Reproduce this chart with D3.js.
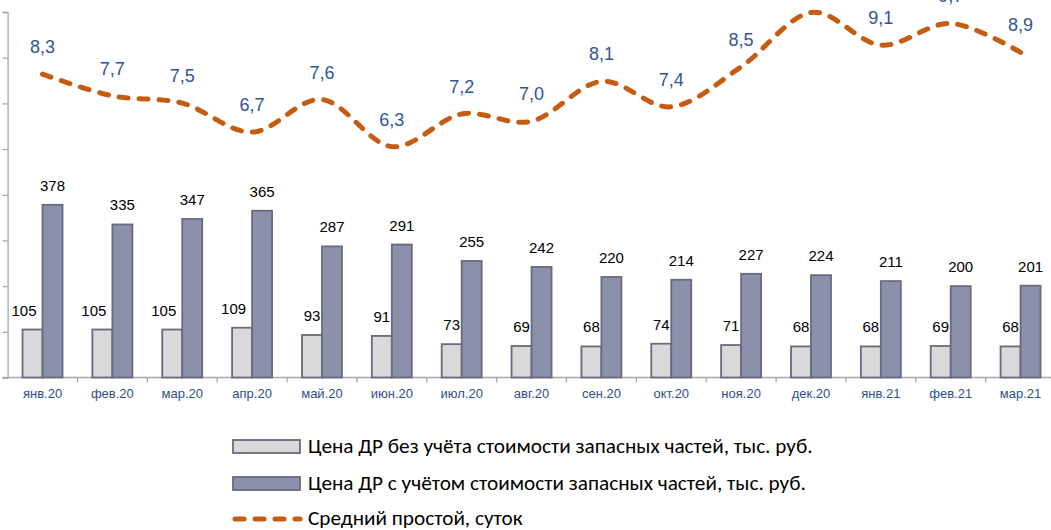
<!DOCTYPE html>
<html>
<head>
<meta charset="utf-8">
<script src="https://cdn.jsdelivr.net/npm/d3@7"></script>
<style>
  body { margin: 0; background: #fff; }
  svg { display: block; }
</style>
</head>
<body>
<svg id="chart" width="1051" height="530"></svg>
<script>
// --------DATA--------------
var months = ["янв.20", "фев.20", "мар.20", "апр.20", "май.20", "июн.20", "июл.20", "авг.20",
              "сен.20", "окт.20", "ноя.20", "дек.20", "янв.21", "фев.21", "мар.21"];
var priceNoParts = [105, 105, 105, 109, 93, 91, 73, 69, 68, 74, 71, 68, 68, 69, 68];
var priceWithParts = [378, 335, 347, 365, 287, 291, 255, 242, 220, 214, 227, 224, 211, 200, 201];
var downtime = [8.3, 7.7, 7.5, 6.7, 7.6, 6.3, 7.2, 7.0, 8.1, 7.4, 8.5, 10.0, 9.1, 9.7, 8.9];
var barTicks = [0, 100, 200, 300, 400, 500, 600, 700, 800];
var legendText = ["Цена ДР без учёта стоимости запасных частей, тыс. руб.",
                  "Цена ДР с учётом стоимости запасных частей, тыс. руб.",
                  "Средний простой, суток"];

var svg = d3.select("#chart");
var axisColor = "#a6a6a6",
    barStroke = "#6b6880",
    lightFill = "#d9d9d9",
    darkFill = "#8b91ab",
    lineColor = "#c65b12",
    labelBlue = "#2f5597",
    tickBlue = "#2f4f86";

// plot area (partly cropped on top and right, as in the source picture)
var left = 7.6, bottom = 377.5, bandW = 69.86;

var x = d3.scaleBand()
  .domain(months)
  .range([left, left + bandW * months.length])
  .paddingInner(0)
  .paddingOuter(0);

var y = d3.scaleLinear().domain([0, 800]).range([bottom, 12]);
var y2 = d3.scaleLinear().domain([0, 10]).range([375, 12.5]);

var barW = 20;

// ----------AXES---------------
var gy = svg.append("g")
  .attr("transform", "translate(" + left + ",0)")
  .call(d3.axisLeft(y).tickValues(barTicks).tickSize(5).tickFormat(""));
gy.select(".domain").attr("stroke", axisColor).attr("stroke-width", 1.3);
gy.selectAll(".tick line").attr("stroke", axisColor).attr("stroke-width", 1.3);

var gx = svg.append("g")
  .attr("transform", "translate(0," + bottom + ")");
gx.append("line")
  .attr("x1", left - 5).attr("x2", 1051)
  .attr("stroke", axisColor).attr("stroke-width", 1.3);
gx.selectAll(".sep")
  .data(months.slice(1))
  .enter().append("line")
  .attr("class", "sep")
  .attr("x1", function(d) { return x(d); })
  .attr("x2", function(d) { return x(d); })
  .attr("y1", 0).attr("y2", 5)
  .attr("stroke", axisColor).attr("stroke-width", 1.3);
gx.selectAll(".lbl")
  .data(months)
  .enter().append("text")
  .attr("class", "lbl")
  .attr("x", function(d) { return x(d) + x.bandwidth() / 2; })
  .attr("y", 20)
  .attr("text-anchor", "middle")
  .style("font-family", "Liberation Sans, Arial, sans-serif")
  .style("font-size", "13px")
  .attr("fill", tickBlue)
  .text(function(d) { return d; });

// ----------BARS---------------
function center(i) { return x(months[i]) + x.bandwidth() / 2; }

svg.selectAll(".bar-light")
  .data(priceNoParts)
  .enter().append("rect")
  .attr("class", "bar-light")
  .attr("x", function(d, i) { return center(i) - barW; })
  .attr("y", function(d) { return y(d); })
  .attr("width", barW)
  .attr("height", function(d) { return bottom - y(d); })
  .attr("fill", lightFill)
  .attr("stroke", barStroke)
  .attr("stroke-width", 1.8);

svg.selectAll(".bar-dark")
  .data(priceWithParts)
  .enter().append("rect")
  .attr("class", "bar-dark")
  .attr("x", function(d, i) { return center(i); })
  .attr("y", function(d) { return y(d); })
  .attr("width", barW)
  .attr("height", function(d) { return bottom - y(d); })
  .attr("fill", darkFill)
  .attr("stroke", barStroke)
  .attr("stroke-width", 1.8);

var numFont = "Liberation Sans, Arial, sans-serif";

svg.selectAll(".val-light")
  .data(priceNoParts)
  .enter().append("text")
  .attr("class", "val-light")
  .attr("y", function(d) { return y(d) - 14; })
  .attr("text-anchor", "middle")
  .style("font-family", numFont)
  .style("font-size", "15px")
  .attr("fill", "#000")
  .text(function(d) { return d; })
  .attr("x", function(d, i) {
    var w = this.getComputedTextLength();
    var c = center(i) - barW / 2;
    return w > barW ? Math.min(c, center(i) - 6 - w / 2) : c;
  });

svg.selectAll(".val-dark")
  .data(priceWithParts)
  .enter().append("text")
  .attr("class", "val-dark")
  .attr("x", function(d, i) { return center(i) + barW / 2; })
  .attr("y", function(d) { return y(d) - 14; })
  .attr("text-anchor", "middle")
  .style("font-family", numFont)
  .style("font-size", "15px")
  .attr("fill", "#000")
  .text(function(d) { return d; });

// ----------LINE---------------
var line = d3.line()
  .x(function(d, i) { return center(i); })
  .y(function(d) { return y2(d); })
  .curve(d3.curveCardinal.tension(0));

svg.append("path")
  .datum(downtime)
  .attr("d", line)
  .attr("fill", "none")
  .attr("stroke", lineColor)
  .attr("stroke-width", 5)
  .attr("stroke-linecap", "round")
  .attr("stroke-dasharray", "9,11");

svg.selectAll(".val-line")
  .data(downtime)
  .enter().append("text")
  .attr("class", "val-line")
  .attr("x", function(d, i) { return center(i); })
  .attr("y", function(d) { return y2(d) - 21; })
  .attr("text-anchor", "middle")
  .style("font-family", numFont)
  .style("font-size", "18px")
  .attr("fill", labelBlue)
  .text(function(d) { return d3.format(".1f")(d).replace(".", ","); });

// ----------LEGEND---------------
var legend = svg.append("g").attr("class", "legend");
var rowsY = [446.5, 483.5, 519];

legend.append("rect")
  .attr("x", 233).attr("y", rowsY[0] - 6.5).attr("width", 67).attr("height", 13)
  .attr("fill", lightFill).attr("stroke", barStroke).attr("stroke-width", 1.8);
legend.append("rect")
  .attr("x", 233).attr("y", rowsY[1] - 6.5).attr("width", 67).attr("height", 13)
  .attr("fill", darkFill).attr("stroke", barStroke).attr("stroke-width", 1.8);
legend.append("line")
  .attr("x1", 235).attr("x2", 300).attr("y1", rowsY[2]).attr("y2", rowsY[2])
  .attr("stroke", lineColor).attr("stroke-width", 5)
  .attr("stroke-linecap", "round").attr("stroke-dasharray", "9,11");

var legendLabels = legend.selectAll(".leg-text")
  .data(legendText)
  .enter().append("text")
  .attr("class", "leg-text")
  .attr("x", 308)
  .attr("y", function(d, i) { return rowsY[i] + 6; })
  .style("font-family", "Carlito, Lato, sans-serif")
  .style("font-size", "16px")
  .attr("fill", "#000")
  .text(function(d) { return d; });

// fit font size so the first entry spans like the original
var w0 = legendLabels.node().getComputedTextLength();
var fs = 16 * 505 / w0;
legendLabels.style("font-size", fs + "px");
</script>
</body>
</html>
